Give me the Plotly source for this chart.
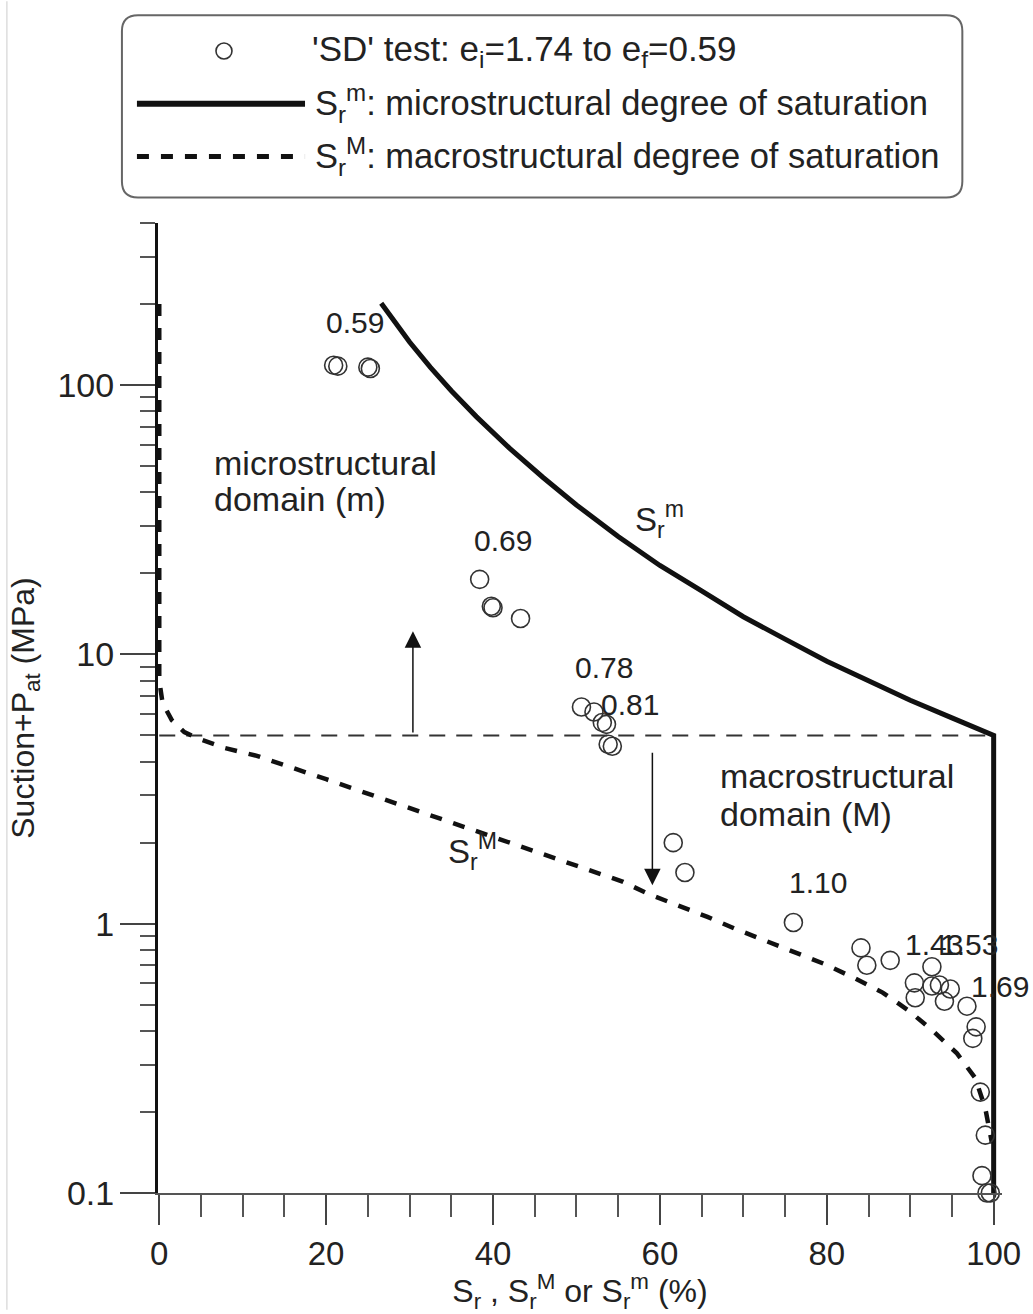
import numpy as np
import plotly.graph_objects as go

# ---------------- data ----------------
# 'SD' test: measured degree of saturation Sr (%) vs suction + Pat (MPa)
sd_sr = [20.9, 21.4, 25.0, 25.3, 38.4, 39.8, 40.0, 43.3, 50.6, 52.1, 53.1, 53.6,
         53.8, 54.3, 61.6, 63.0, 76.0, 84.1, 84.8, 87.6, 92.6, 90.5, 90.6, 92.6,
         93.5, 94.8, 94.1, 96.8, 97.9, 97.5, 98.4, 99.0, 98.6, 99.2, 99.6]
sd_suction = [118.6, 117.6, 116.6, 115.3, 19.0, 15.1, 14.9, 13.6, 6.38, 6.11, 5.59, 5.50,
              4.64, 4.56, 2.00, 1.55, 1.01, 0.813, 0.701, 0.731, 0.692, 0.603, 0.531, 0.587,
              0.592, 0.572, 0.515, 0.494, 0.414, 0.375, 0.237, 0.164, 0.116, 0.100, 0.100]

# microstructural degree of saturation Sr^m
micro_sr = [26.6, 28, 30, 32.5, 35, 38, 42, 46, 50, 55, 60, 65, 70, 75, 80, 85, 90, 95,
            98, 99.6, 100, 100]
micro_suction = [201.4, 174.6, 144.5, 116.4, 95.3, 76.4, 58.2, 45.4, 35.9, 27.4, 21.4,
                 17.2, 13.8, 11.4, 9.44, 7.99, 6.76, 5.81, 5.31, 5.06, 5.0, 0.1]

# macrostructural degree of saturation Sr^M
macro_sr = [0, 0, 0.4, 1.5, 3, 4.5, 7.9, 11.7, 20, 30, 40, 50, 55.6, 58.6, 62.2, 65.7,
            69.0, 72.6, 76.2, 79.6, 83.2, 86.7, 89.8, 92.8, 95.6, 97.8, 99.0, 99.5, 99.8]
macro_suction = [200, 8.0, 6.6, 5.7, 5.15, 4.89, 4.49, 4.2, 3.44, 2.69, 2.09, 1.64, 1.43,
                 1.29, 1.17, 1.06, 0.958, 0.865, 0.787, 0.711, 0.631, 0.555, 0.476, 0.398,
                 0.33, 0.267, 0.206, 0.174, 0.153]

# boundary suction between micro and macro domains
domain_limit = 5.0

# void ratio labels along the test path
e_labels = ["0.59", "0.69", "0.78", "0.81", "1.10", "1.43", "1.53", "1.69", "1.72"]
e_label_sr = [23.5, 41.2, 53.3, 56.4, 78.9, 92.9, 97.1, 100.8, 101.6]
e_label_suction = [171, 26.4, 8.96, 6.53, 1.42, 0.836, 0.836, 0.585, 0.163]

x_ticks = [0, 20, 40, 60, 80, 100]
y_ticks = [0.1, 1, 10, 100]
y_ticktext = ["0.1", "1", "10", "100"]

# ---------------- layout geometry (pixels) ----------------
W, H = 1033, 1314
X0_PX, PX_PER_PCT = 159.3, 8.34
X_RANGE = [-0.15, 101.0]
L = X0_PX + X_RANGE[0] * PX_PER_PCT
R = X0_PX + X_RANGE[1] * PX_PER_PCT
T, B = 222.7, 1196.7
Y_RANGE = [-1.0, float(np.log10(400))]

FONT = "Liberation Sans, Arial, sans-serif"
TXT = "#222222"


def paper_x(px):
    return (px - L) / (R - L)


def paper_y(py):
    return (B - py) / (B - T)


fig = go.Figure()

# domain limit line
fig.add_trace(go.Scatter(
    x=[0, 100], y=[domain_limit, domain_limit], mode="lines",
    line=dict(color="#333333", width=2, dash="16px,11px"),
    showlegend=False, hoverinfo="skip"))

fig.add_trace(go.Scatter(
    x=macro_sr, y=macro_suction, mode="lines",
    line=dict(color="#111111", width=4.5, dash="12px,12px"),
    showlegend=False, name="Sr^M"))

fig.add_trace(go.Scatter(
    x=micro_sr, y=micro_suction, mode="lines",
    line=dict(color="#111111", width=5),
    showlegend=False, name="Sr^m"))

fig.add_trace(go.Scatter(
    x=sd_sr, y=sd_suction, mode="markers",
    marker=dict(symbol="circle-open", size=18, color="#333333",
                line=dict(width=1.6, color="#333333")),
    cliponaxis=False, showlegend=False, name="SD test"))

annotations = []
for t, xv, yv in zip(e_labels, e_label_sr, e_label_suction):
    annotations.append(dict(x=xv, y=np.log10(yv), xref="x", yref="y", text=t,
                            showarrow=False, font=dict(size=30, color=TXT, family=FONT)))

# domain labels
for txt, xv, py in [("microstructural", 6.35, 463), ("domain (m)", 6.35, 499),
                    ("macrostructural", 67.0, 777), ("domain (M)", 67.0, 815)]:
    annotations.append(dict(x=xv, y=2 - (py - 385) / 270.0, xref="x", yref="y",
                            text=txt, xanchor="left", showarrow=False,
                            font=dict(size=34, color=TXT, family=FONT)))

# curve names
annotations.append(dict(x=60.0, y=np.log10(31.6), xref="x", yref="y",
                        text="S<sub>r</sub><sup>m</sup>", showarrow=False,
                        font=dict(size=33, color=TXT, family=FONT)))
annotations.append(dict(x=37.6, y=np.log10(1.86), xref="x", yref="y",
                        text="S<sub>r</sub><sup>M</sup>", showarrow=False,
                        font=dict(size=33, color=TXT, family=FONT)))

# arrows pointing into each domain
for xv, tail, tip in [(30.4, 5.06, 12.2), (59.1, 4.37, 1.39)]:
    annotations.append(dict(x=xv, y=np.log10(tip), ax=xv, ay=np.log10(tail),
                            xref="x", yref="y", axref="x", ayref="y", text="",
                            showarrow=True, arrowhead=2, arrowsize=2.2, arrowwidth=1.5,
                            arrowcolor="#111111", standoff=0, startstandoff=0))

# legend content
leg_rows = [50, 103, 156]
leg_text = [
    (310, "'SD' test: e<sub>i</sub>=1.74 to e<sub>f</sub>=0.59", 35),
    (313, "S<sub>r</sub><sup>m</sup>: microstructural degree of saturation", 34.5),
    (313, "S<sub>r</sub><sup>M</sup>: macrostructural degree of saturation", 34.5),
]
for (px, txt, fs), py in zip(leg_text, leg_rows):
    annotations.append(dict(x=paper_x(px), y=paper_y(py), xref="paper", yref="paper",
                            xanchor="left", yanchor="middle", showarrow=False, text=txt,
                            font=dict(size=fs, color=TXT, family=FONT)))

# rounded legend frame
bx0, by0, bx1, by1, rad = 122, 14, 962, 197, 16
rx = rad / (R - L)
ry = rad / (B - T)
X0, X1 = paper_x(bx0), paper_x(bx1)
Y0, Y1 = paper_y(by1), paper_y(by0)
frame_path = (f"M{X0+rx},{Y1} L{X1-rx},{Y1} Q{X1},{Y1} {X1},{Y1-ry} "
              f"L{X1},{Y0+ry} Q{X1},{Y0} {X1-rx},{Y0} L{X0+rx},{Y0} "
              f"Q{X0},{Y0} {X0},{Y0+ry} L{X0},{Y1-ry} Q{X0},{Y1} {X0+rx},{Y1} Z")

shapes = [
    dict(type="path", path=frame_path, xref="paper", yref="paper",
         line=dict(color="#666666", width=2), fillcolor="white", layer="below"),
    dict(type="circle", xref="paper", yref="paper", xsizemode="pixel", ysizemode="pixel",
         xanchor=paper_x(224), yanchor=paper_y(leg_rows[0]), x0=-8, x1=8, y0=-8, y1=8,
         line=dict(color="#333333", width=1.6)),
    dict(type="line", xref="paper", yref="paper", x0=paper_x(137), x1=paper_x(305),
         y0=paper_y(leg_rows[1]), y1=paper_y(leg_rows[1]),
         line=dict(color="#111111", width=6)),
    dict(type="line", xref="paper", yref="paper", x0=paper_x(137), x1=paper_x(305),
         y0=paper_y(leg_rows[2]), y1=paper_y(leg_rows[2]),
         line=dict(color="#111111", width=5, dash="12px,12px")),
    # faint image frame on the left
    dict(type="line", xref="paper", yref="paper", x0=paper_x(7), x1=paper_x(7),
         y0=paper_y(0), y1=paper_y(H), line=dict(color="#dddddd", width=1.5)),
]

y_minor = [m * 10.0 ** e for e in range(-1, 3) for m in range(2, 10) if m * 10.0 ** e <= 400]

fig.update_layout(
    width=W, height=H,
    margin=dict(l=L, r=W - R, t=T, b=H - B, pad=0),
    paper_bgcolor="white", plot_bgcolor="white",
    font=dict(family=FONT, color=TXT, size=32),
    annotations=annotations, shapes=shapes,
    xaxis=dict(
        range=X_RANGE, tickvals=x_ticks, ticks="outside", ticklen=30, tickwidth=1.5,
        tickcolor="#444444", showline=True, linecolor="#555555", linewidth=2,
        showgrid=False, zeroline=False, tickfont=dict(size=33, color=TXT),
        minor=dict(tickvals=list(range(5, 100, 5)), ticks="outside", ticklen=22,
                   tickwidth=1.5, tickcolor="#555555", showgrid=False),
        title=dict(text="S<sub>r</sub> , S<sub>r</sub><sup>M</sup> or S<sub>r</sub><sup>m</sup> (%)",
                   font=dict(size=32, color=TXT), standoff=8),
    ),
    yaxis=dict(
        type="log", range=Y_RANGE, tickvals=y_ticks, ticktext=y_ticktext,
        ticks="outside", ticklen=35, tickwidth=1.5, tickcolor="#444444",
        showline=True, linecolor="#111111", linewidth=3, showgrid=False, zeroline=False,
        tickfont=dict(size=34, color=TXT), ticklabelstandoff=-1,
        minor=dict(tickvals=y_minor, ticks="outside", ticklen=15, tickwidth=1.5,
                   tickcolor="#555555", showgrid=False),
        title=dict(text="Suction+P<sub>at</sub> (MPa)",
                   font=dict(size=32, color=TXT), standoff=14),
    ),
)

fig.write_html("out.html")
